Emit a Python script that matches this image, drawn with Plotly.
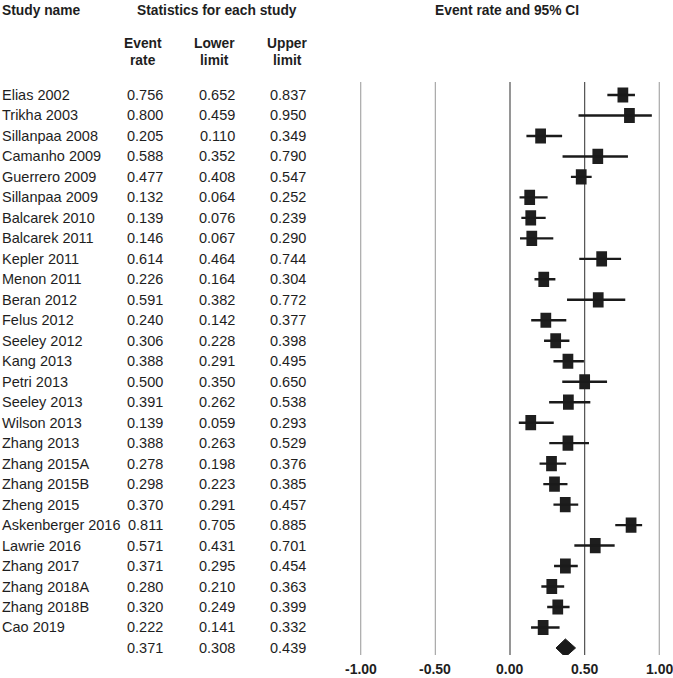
import plotly.graph_objects as go

# ---------------- data ----------------
study_names = [
    "Elias 2002", "Trikha 2003", "Sillanpaa 2008", "Camanho 2009", "Guerrero 2009",
    "Sillanpaa 2009", "Balcarek 2010", "Balcarek 2011", "Kepler 2011", "Menon 2011",
    "Beran 2012", "Felus 2012", "Seeley 2012", "Kang 2013", "Petri 2013",
    "Seeley 2013", "Wilson 2013", "Zhang 2013", "Zhang 2015A", "Zhang 2015B",
    "Zheng 2015", "Askenberger 2016", "Lawrie 2016", "Zhang 2017", "Zhang 2018A",
    "Zhang 2018B", "Cao 2019",
]
event_rate = [0.756, 0.800, 0.205, 0.588, 0.477, 0.132, 0.139, 0.146, 0.614, 0.226,
              0.591, 0.240, 0.306, 0.388, 0.500, 0.391, 0.139, 0.388, 0.278, 0.298,
              0.370, 0.811, 0.571, 0.371, 0.280, 0.320, 0.222]
lower_limit = [0.652, 0.459, 0.110, 0.352, 0.408, 0.064, 0.076, 0.067, 0.464, 0.164,
               0.382, 0.142, 0.228, 0.291, 0.350, 0.262, 0.059, 0.263, 0.198, 0.223,
               0.291, 0.705, 0.431, 0.295, 0.210, 0.249, 0.141]
upper_limit = [0.837, 0.950, 0.349, 0.790, 0.547, 0.252, 0.239, 0.290, 0.744, 0.304,
               0.772, 0.377, 0.398, 0.495, 0.650, 0.538, 0.293, 0.529, 0.376, 0.385,
               0.457, 0.885, 0.701, 0.454, 0.363, 0.399, 0.332]
summary_rate = 0.371
summary_lower = 0.308
summary_upper = 0.439

tick_values = [-1.0, -0.5, 0.0, 0.5, 1.0]
tick_labels = ["-1.00", "-0.50", "0.00", "0.50", "1.00"]

# ---------------- layout helpers ----------------
W, H = 673, 678
FONT = "Liberation Sans, Arial, sans-serif"
TXT = "#1e1e1e"
BODY = 14.5
HEAD = 13.8

n = len(study_names)
rows = list(range(n))
summary_row = n

def px(xpix):
    return xpix / W

def py(ypix):
    return 1 - ypix / H

# plot area in pixels
plot_top, plot_bot = 82, 655
row0_pix, row_step = 95, 20.48
y_top_val = (plot_top - row0_pix) / row_step
y_bot_val = (plot_bot - row0_pix) / row_step

x_min, x_max = -1.04, 1.04
ppu = (659.3 - 360.7) / 2.0
x_left_pix = 360.7 + (x_min + 1.0) * ppu
x_right_pix = 659.3 + (x_max - 1.0) * ppu

fig = go.Figure()

# CI lines via error bars
fig.add_trace(go.Scatter(
    x=event_rate, y=rows, mode="markers",
    marker=dict(size=1, color="rgba(0,0,0,0)"),
    error_x=dict(type="data", symmetric=False,
                 array=[u - e for u, e in zip(upper_limit, event_rate)],
                 arrayminus=[e - l for e, l in zip(event_rate, lower_limit)],
                 color="#1a1a1a", thickness=2.4, width=0),
    hoverinfo="skip", showlegend=False,
))

# rectangular study markers as short horizontal bars
box_w = 0.072
fig.add_trace(go.Bar(
    y=rows, x=[box_w] * n, base=[e - box_w / 2 for e in event_rate],
    orientation="h", width=0.74,
    marker=dict(color="#1e1e1e", line=dict(width=0)),
    hoverinfo="skip", showlegend=False,
))

# summary diamond
dh = 0.44
fig.add_trace(go.Scatter(
    x=[summary_lower, summary_rate, summary_upper, summary_rate, summary_lower],
    y=[summary_row, summary_row - dh, summary_row, summary_row + dh, summary_row],
    mode="lines", fill="toself", fillcolor="#1a1a1a",
    line=dict(color="#1a1a1a", width=1),
    hoverinfo="skip", showlegend=False,
))

# vertical reference lines
for v in tick_values:
    dark = v in (0.0, 0.5)
    fig.add_shape(type="line", xref="x", yref="paper",
                  x0=v, x1=v, y0=py(plot_bot), y1=py(plot_top),
                  line=dict(color="#505050" if dark else "#a8a8a8", width=1.2),
                  layer="below")

annotations = []

def add_text(x, y, text, anchor="left", bold=False, size=BODY, yref="paper", xref="paper"):
    annotations.append(dict(
        x=x, y=y, xref=xref, yref=yref, text=f"<b>{text}</b>" if bold else text,
        showarrow=False, xanchor=anchor, yanchor="middle",
        font=dict(family=FONT, size=size, color=TXT),
    ))

# headers
add_text(px(0), py(11), "Study name", bold=True, size=HEAD)
add_text(px(217), py(11), "Statistics for each study", anchor="center", bold=True, size=HEAD)
add_text(px(507), py(11), "Event rate and 95% CI", anchor="center", bold=True, size=HEAD)
for cx, l1, l2 in [(143, "Event", "rate"), (215, "Lower", "limit"), (287, "Upper", "limit")]:
    add_text(px(cx), py(43), l1, anchor="center", bold=True, size=HEAD)
    add_text(px(cx), py(61), l2, anchor="center", bold=True, size=HEAD)

# table rows
for i in range(n):
    add_text(px(0), i, study_names[i], yref="y")
    add_text(px(165), i, f"{event_rate[i]:.3f}", anchor="right", yref="y")
    add_text(px(237), i, f"{lower_limit[i]:.3f}", anchor="right", yref="y")
    add_text(px(308), i, f"{upper_limit[i]:.3f}", anchor="right", yref="y")
add_text(px(165), summary_row, f"{summary_rate:.3f}", anchor="right", yref="y")
add_text(px(237), summary_row, f"{summary_lower:.3f}", anchor="right", yref="y")
add_text(px(308), summary_row, f"{summary_upper:.3f}", anchor="right", yref="y")

# x-axis tick labels (as annotations so the right-most one is not dropped)
for v, t in zip(tick_values, tick_labels):
    add_text(v, py(669), t, anchor="center", bold=True, size=14, xref="x")

fig.update_layout(
    width=W, height=H,
    margin=dict(l=0, r=0, t=0, b=0),
    paper_bgcolor="white", plot_bgcolor="white",
    showlegend=False, barmode="overlay",
    annotations=annotations,
    xaxis=dict(domain=[px(x_left_pix), px(x_right_pix)], range=[x_min, x_max],
               showticklabels=False, showgrid=False, zeroline=False, showline=False,
               ticks="", automargin=False, fixedrange=True),
    yaxis=dict(domain=[py(plot_bot), py(plot_top)], range=[y_bot_val, y_top_val],
               showticklabels=False, showgrid=False, zeroline=False, showline=False,
               ticks="", automargin=False, fixedrange=True),
)

fig.write_html("out.html", config={"displayModeBar": False},
               post_script="document.body.style.margin='0px';document.body.style.padding='0px';")
